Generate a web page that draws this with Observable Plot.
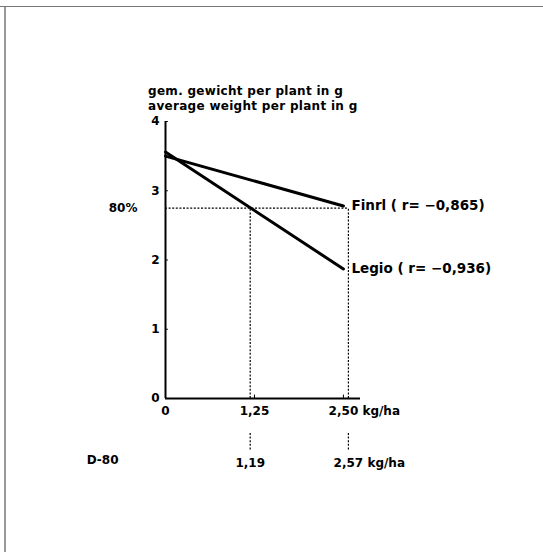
<!DOCTYPE html>
<html>
<head>
<meta charset="utf-8">
<script src="https://cdn.jsdelivr.net/npm/d3@7"></script>
<script src="https://cdn.jsdelivr.net/npm/@observablehq/plot@0.6"></script>
<style>
  html, body { margin: 0; padding: 0; background: white; }
  #page { position: relative; width: 543px; height: 552px; overflow: hidden; background: white; }
  #chart { position: absolute; left: 0; top: 112px; }
  #title { position: absolute; left: 148px; top: 84px; font: bold 12px "DejaVu Sans"; line-height: 15px; letter-spacing: 0.3px; color: #000; white-space: nowrap; }
  #topline { position: absolute; left: 0; top: 6px; width: 543px; height: 1px; background: #777; }
  #leftline { position: absolute; left: 4px; top: 7px; width: 2px; height: 545px; background: #999; }
</style>
</head>
<body>
<div id="page">
  <div id="chart"></div>
  <div id="title">gem. gewicht per plant in g<br>average weight per plant in g</div>
  <div id="topline"></div>
  <div id="leftline"></div>
</div>
<script>
// ---- data ----
const varieties = ["Finrl", "Legio"];
const rValues = ["−0,865", "−0,936"];
const doses = [0, 2.5];                 // kg/ha
const finrlWeight = [3.50, 2.78];       // g per plant
const legioWeight = [3.56, 1.87];       // g per plant
const level80 = 2.75;                   // 80% level
const level80Label = "80%";
const d80 = [1.19, 2.57];               // D-80 doses
const d80Labels = ["1,19", "2,57"];
const d80RowLabel = "D-80";
const xTicks = [0, 1.25, 2.5];
const xTickLabels = ["0", "1,25", "2,50"];
const yTicks = [0, 1, 2, 3, 4];
const unit = "kg/ha";
const xMax = 2.74;

const series = [finrlWeight, legioWeight];
const rows = varieties.flatMap((v, k) => doses.map((d, i) => ({variety: v, dose: d, w: series[k][i]})));
const ends = varieties.map((v, k) => ({variety: v, dose: doses[doses.length - 1], w: series[k][doses.length - 1], r: rValues[k]}));

const dash = {stroke: "black", strokeWidth: 1.2, strokeDasharray: "2,1.6"};

const chart = Plot.plot({
  width: 543,
  height: 440,
  marginLeft: 165,
  marginRight: 183,
  marginTop: 9,
  marginBottom: 154,
  style: {background: "transparent", overflow: "visible", fontFamily: "DejaVu Sans", fontSize: "12px", fontWeight: "bold", color: "black"},
  x: {domain: [0, xMax], axis: null},
  y: {domain: [0, 4], axis: null},
  marks: [
    // y axis labels
    Plot.axisY({ticks: yTicks, tickSize: 0, tickPadding: 6, label: null, tickFormat: d => String(d)}),
    Plot.ruleY(yTicks.slice(1), {x1: 0, x2: 0.04, strokeWidth: 1}),
    // axes lines
    Plot.ruleX([0], {y1: 0, y2: 4, strokeWidth: 2}),
    Plot.ruleY([0], {x1: 0, x2: xMax, strokeWidth: 2}),
    // x ticks and labels
    Plot.ruleX(xTicks.slice(1), {y1: 0, y2: 0.05, strokeWidth: 1}),
    Plot.text(xTicks, {x: d => d, y: 0, text: (d, i) => xTickLabels[i], dy: 13}),
    Plot.text([xTicks[xTicks.length - 1]], {x: d => d, y: 0, text: [unit], textAnchor: "start", dx: 19, dy: 13}),
    // 80% reference lines
    Plot.ruleY([level80], {x1: 0, x2: d80[d80.length - 1], ...dash}),
    Plot.ruleX(d80, {y1: 0, y2: level80, ...dash}),
    Plot.ruleX(d80, {y1: 0, y2: 0, insetTop: 35, insetBottom: -52, ...dash}),
    Plot.text([level80], {x: 0, y: d => d, text: [level80Label], textAnchor: "end", dx: -28}),
    // D-80 row
    Plot.text([d80RowLabel], {frameAnchor: "bottom-left", textAnchor: "end", dx: -47, dy: 65}),
    Plot.text(d80, {x: d => d, y: 0, text: (d, i) => d80Labels[i], dy: 65}),
    Plot.text([d80[d80.length - 1]], {x: d => d, y: 0, text: [unit], textAnchor: "start", dx: 19, dy: 65}),
    // data lines
    Plot.line(rows, {x: "dose", y: "w", z: "variety", stroke: "black", strokeWidth: 3}),
    Plot.text(ends, {x: "dose", y: "w", text: d => `${d.variety} ( r= ${d.r})`, textAnchor: "start", dx: 8, fontSize: 13.5})
  ]
});
document.getElementById("chart").appendChild(chart);
</script>
</body>
</html>
